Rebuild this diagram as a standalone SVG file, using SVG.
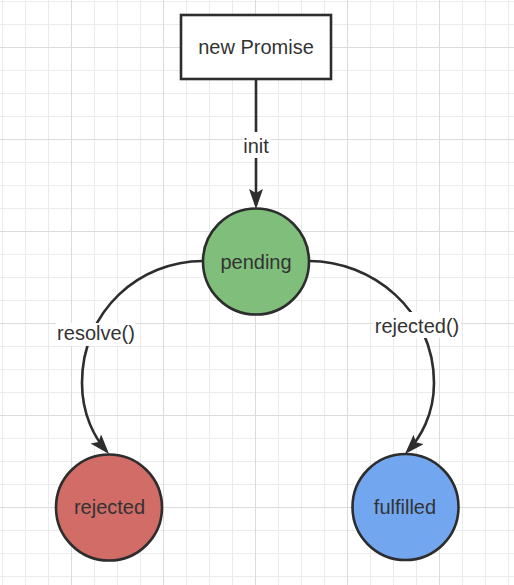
<svg xmlns="http://www.w3.org/2000/svg" width="514" height="585" viewBox="0 0 514 585">
  <style>
    .node { stroke: #2d2d2d; stroke-width: 2.6; }
    .lbl { font-family: "Liberation Sans", Arial, sans-serif; font-size: 20px; fill: #333333; text-anchor: middle; }
    .edge { fill: none; stroke: #2d2d2d; stroke-width: 2.6; }
    .lblbg { fill: #ffffff; }
  </style>
  <defs>
    <pattern id="minor" x="2" y="1" width="23" height="23" patternUnits="userSpaceOnUse">
      <path d="M0.5,0 V23 M0,0.5 H23" stroke="#ebebeb" stroke-width="1" fill="none"/>
    </pattern>
    <pattern id="major" x="71" y="47" width="92" height="92" patternUnits="userSpaceOnUse">
      <path d="M0.5,0 V92 M0,0.5 H92" stroke="#dcdcdc" stroke-width="1" fill="none"/>
    </pattern>
    <marker id="arrow" markerUnits="userSpaceOnUse" markerWidth="22" markerHeight="16" refX="16" refY="7" orient="auto">
      <path d="M0,0 L20,7 L0,14 L4,7 Z" fill="#2d2d2d"/>
    </marker>
  </defs>

  <rect width="514" height="585" fill="#ffffff"/>
  <rect width="514" height="585" fill="url(#minor)"/>
  <rect width="514" height="585" fill="url(#major)"/>

  <g id="connectors">
    <g id="edge-init">
      <path class="edge" d="M256,79 V205" marker-end="url(#arrow)"/>
      <rect class="lblbg" x="243" y="132" width="28" height="26"/>
      <text class="lbl" x="256" y="153">init</text>
    </g>
    <g id="edge-resolve">
      <path class="edge" d="M203,261 C140,261 82,310 82,383 C82,415 95,438 106.4,451" marker-end="url(#arrow)"/>
      <rect class="lblbg" x="56" y="323" width="79" height="23"/>
      <text class="lbl" x="96" y="340">resolve()</text>
    </g>
    <g id="edge-rejected">
      <path class="edge" d="M309,261 C372,261 434,310 434,383 C434,415 420,438 407.7,451.1" marker-end="url(#arrow)"/>
      <rect class="lblbg" x="373" y="312" width="88" height="26"/>
      <text class="lbl" x="417" y="333">rejected()</text>
    </g>
  </g>

  <g id="node-new-promise">
    <rect class="node" x="181" y="15" width="150" height="64" fill="#ffffff"/>
    <text class="lbl" x="256" y="54">new Promise</text>
  </g>
  <g id="node-pending">
    <circle class="node" cx="256" cy="261.5" r="53" fill="#7fbf7b"/>
    <text class="lbl" x="256" y="269">pending</text>
  </g>
  <g id="node-rejected">
    <circle class="node" cx="109" cy="507.5" r="53" fill="#d16c67"/>
    <text class="lbl" x="109.5" y="514">rejected</text>
  </g>
  <g id="node-fulfilled">
    <circle class="node" cx="405.5" cy="507" r="53" fill="#72a7f0"/>
    <text class="lbl" x="405" y="514">fulfilled</text>
  </g>
</svg>
